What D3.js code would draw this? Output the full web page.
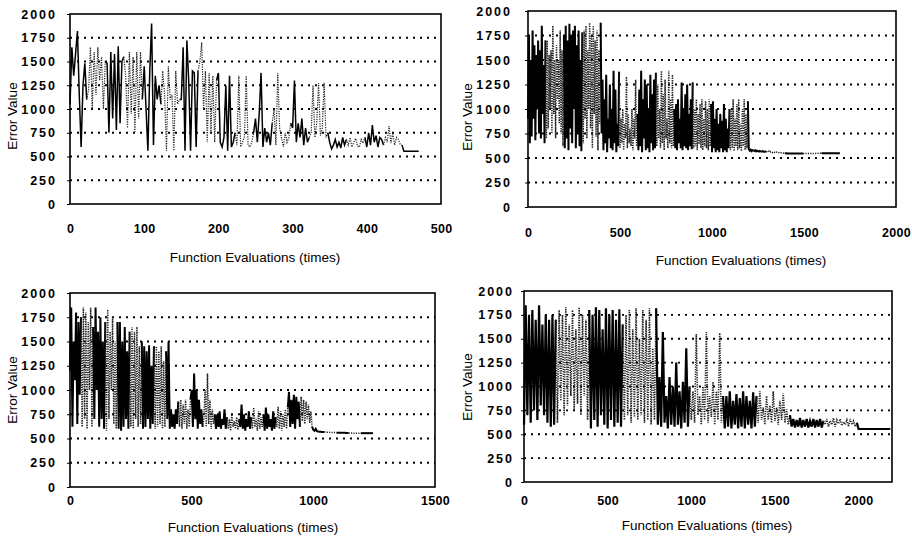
<!DOCTYPE html>
<html>
<head>
<meta charset="utf-8">
<script src="https://cdn.jsdelivr.net/npm/d3@7"></script>
<style>
  body { margin: 0; background: #fff; }
  svg { display: block; font-family: "Liberation Sans", Arial, sans-serif; }
  .tick text { font-size: 12.5px; font-weight: bold; fill: #000; }
  .yaxis .tick text { letter-spacing: 2px; }
  .xaxis .tick text { letter-spacing: 0.3px; }
  .tick line { stroke: #000; }
  .title { font-size: 13.5px; fill: #000; }
</style>
</head>
<body>
<svg id="chart" width="912" height="537"></svg>
<script>
// shared y axis
const yTicks = [0, 250, 500, 750, 1000, 1250, 1500, 1750, 2000];
const yGrid = [250, 500, 750, 1000, 1250, 1500, 1750];

// panel 1 : 0-500 evaluations, one value every 2.5 evaluations, runs of 25
const p1XTicks = [0, 100, 200, 300, 400, 500];
const p1Step = 2.5;
const p1Runs = [
  [1050, 1650, 1350, 1580, 1820, 1150, 600, 1250, 1480, 1100],
  [1200, 1650, 1000, 1600, 1150, 1650, 1300, 1550, 1000, 1500],
  [1480, 750, 1600, 900, 1580, 780, 1660, 850, 1500, 1550],
  [1350, 800, 1600, 950, 1550, 760, 1600, 900, 1600, 1100],
  [1450, 1000, 560, 1400, 1900, 620, 1350, 1100, 1250, 1050],
  [1400, 1150, 560, 1450, 1100, 1150, 560, 1400, 1050, 1100],
  [1100, 1650, 560, 1720, 1300, 560, 1400, 1380, 600, 1400],
  [1500, 1700, 1000, 1400, 650, 1380, 750, 1350, 650, 1300],
  [1380, 650, 600, 700, 1250, 560, 1350, 600, 650, 750],
  [620, 1350, 600, 650, 700, 1350, 620, 600, 650, 750],
  [900, 650, 950, 1380, 600, 800, 650, 750, 620, 850],
  [1000, 620, 1380, 800, 700, 600, 750, 650, 700, 850],
  [800, 1300, 650, 850, 700, 900, 620, 800, 650, 700],
  [750, 1250, 700, 850, 1270, 720, 800, 1280, 700, 750],
  [650, 580, 620, 680, 600, 650, 590, 700, 620, 680],
  [620, 700, 600, 650, 690, 610, 600, 680, 640, 700],
  [600, 750, 620, 830, 650, 720, 600, 700, 680, 620],
  [700, 650, 820, 640, 750, 620, 700, 680, 630, 620],
  [555, 555, 555, 555, 555, 555, 555, 555, 555]
];

// panel 2 : 0-2000 evaluations, one value every 5 evaluations, runs of 100
const p2XTicks = [0, 500, 1000, 1500, 2000];
const p2Step = 5;
const p2Runs = [
  [900, 1750, 650, 1500, 720, 1800, 900, 1650, 680, 1550, 1000, 1700, 750, 1600, 700, 1850, 950, 1450, 650, 1700],
  [700, 1700, 800, 1550, 1000, 1600, 750, 1850, 950, 1500, 700, 1650, 1100, 1500, 850, 1800, 750, 1600, 620, 1750],
  [600, 1850, 700, 1700, 580, 1870, 800, 1750, 650, 1800, 1000, 1850, 600, 1650, 750, 1800, 620, 1500, 570, 1780],
  [650, 1800, 900, 1850, 700, 1600, 1000, 1880, 800, 1750, 600, 1850, 950, 1700, 720, 1800, 580, 1600, 850, 1880],
  [750, 1300, 580, 1100, 650, 1350, 560, 900, 700, 1250, 600, 1000, 580, 1390, 650, 1200, 560, 850, 620, 1380],
  [600, 900, 650, 1000, 580, 850, 700, 1330, 600, 950, 650, 800, 620, 1000, 580, 900, 700, 1300, 620, 950],
  [580, 1200, 620, 1390, 560, 1100, 700, 1300, 580, 1250, 600, 1000, 560, 1350, 650, 1150, 580, 1300, 600, 1370],
  [620, 1250, 700, 1000, 600, 1390, 650, 1150, 580, 1300, 700, 900, 600, 1390, 650, 1100, 600, 1350, 620, 1000],
  [600, 1050, 580, 1100, 650, 900, 600, 1270, 580, 1000, 620, 1150, 600, 1250, 580, 950, 620, 1100, 590, 1270],
  [600, 1000, 620, 1100, 580, 950, 640, 1050, 600, 1100, 580, 900, 620, 1080, 600, 1000, 580, 1100, 620, 1050],
  [560, 1080, 600, 900, 560, 1000, 580, 850, 560, 950, 600, 880, 560, 1050, 580, 900, 560, 800, 600, 1000],
  [580, 1000, 600, 1100, 570, 900, 620, 1050, 580, 1100, 600, 850, 570, 1000, 620, 1100, 580, 950, 600, 1080],
  [590, 575, 585, 570, 580, 575, 572, 580, 568, 575, 570, 565, 572, 568, 565, 570, 566, 563, 567, 565],
  [565, 560, 570, 558, 565, 560, 555, 562, 558, 553, 560, 556, 552, 555, 550, 553, 550, 548, 550, 548],
  [548, 547, 548, 547, 547, 546, 547, 546, 546, 546, 545, 546, 545, 545, 545, 545, 545, 545, 545, 545],
  [545, 545, 546, 545, 545, 546, 545, 546, 546, 546, 547, 546, 547, 547, 547, 548, 547, 548, 548, 548],
  [549, 549, 549, 549, 549, 549, 549, 549, 549, 549, 549, 549, 549, 549, 549, 549, 549, 549, 549, 549]
];

// panel 3 : 0-1500 evaluations, one value every 5 evaluations, runs of 50
const p3XTicks = [0, 500, 1000, 1500];
const p3Step = 5;
const p3Runs = [
  [1200, 1850, 620, 1500, 1100, 1800, 650, 1700, 950, 1750],
  [620, 1850, 700, 1800, 600, 1700, 1000, 1850, 620, 1650],
  [700, 1850, 1000, 1600, 620, 1750, 700, 1500, 600, 1700],
  [580, 1830, 700, 1600, 1000, 1750, 650, 1500, 600, 1700],
  [600, 1700, 580, 1500, 620, 1650, 700, 1400, 600, 1600],
  [620, 1650, 600, 1600, 700, 1650, 620, 1450, 650, 1500],
  [600, 1450, 620, 1400, 700, 1460, 600, 1250, 650, 1450],
  [600, 1450, 620, 1400, 650, 1450, 600, 1300, 620, 1400],
  [700, 1500, 600, 800, 620, 750, 600, 800, 650, 880],
  [620, 900, 600, 850, 650, 900, 600, 800, 620, 900],
  [1000, 620, 1170, 700, 1000, 600, 900, 650, 800, 620],
  [700, 1000, 620, 1170, 650, 900, 600, 800, 650, 750],
  [600, 750, 620, 780, 600, 700, 640, 800, 600, 720],
  [600, 700, 580, 750, 620, 680, 600, 720, 590, 700],
  [620, 850, 600, 750, 580, 700, 620, 780, 600, 720],
  [600, 820, 620, 700, 580, 780, 600, 720, 620, 750],
  [580, 820, 600, 750, 620, 700, 580, 780, 600, 720],
  [620, 830, 600, 780, 580, 750, 620, 800, 600, 820],
  [980, 620, 900, 650, 950, 600, 930, 700, 880, 620],
  [930, 680, 900, 650, 880, 700, 850, 660, 780, 620],
  [590, 580, 600, 575, 572, 570, 570, 568, 568, 567],
  [566, 565, 565, 564, 563, 563, 562, 562, 561, 560],
  [560, 560, 559, 559, 558, 558, 558, 557, 557, 557],
  [556, 556, 556, 555, 555, 555, 555, 555, 555, 555],
  [555, 555, 555, 555, 555, 555, 555, 555, 555, 555]
];

// panel 4 : 0-2200 evaluations, one value every 10 evaluations, runs of 200
const p4XTicks = [0, 500, 1000, 1500, 2000];
const p4Step = 10;
const p4Runs = [
  [600, 1850, 700, 1750, 620, 1800, 750, 1700, 650, 1850, 800, 1650, 700, 1750, 620, 1700, 580, 1750, 600, 1700],
  [620, 1800, 850, 1750, 700, 1830, 800, 1650, 900, 1800, 750, 1600, 820, 1830, 700, 1750, 900, 1700, 650, 1800],
  [560, 1750, 650, 1830, 580, 1800, 700, 1600, 600, 1820, 560, 1750, 650, 1800, 580, 1700, 620, 1810, 580, 1650],
  [650, 1750, 700, 1800, 620, 1600, 680, 1820, 650, 1500, 700, 1800, 620, 1700, 650, 1820, 600, 1400, 650, 1820],
  [600, 1100, 580, 1570, 620, 900, 560, 1100, 600, 1000, 580, 1250, 600, 950, 560, 1050, 620, 1400, 580, 1000],
  [650, 950, 620, 1550, 700, 900, 600, 1000, 650, 1570, 620, 900, 680, 1050, 600, 950, 650, 1560, 620, 900],
  [560, 900, 580, 950, 560, 850, 600, 920, 560, 880, 580, 950, 560, 900, 600, 850, 560, 940, 580, 900],
  [620, 950, 650, 780, 600, 900, 650, 800, 620, 950, 640, 780, 600, 850, 650, 930, 620, 760, 600, 700],
  [580, 660, 570, 650, 580, 670, 570, 650, 580, 660, 570, 640, 580, 660, 570, 650, 580, 660, 570, 640],
  [600, 660, 580, 640, 600, 670, 580, 650, 610, 660, 590, 630, 600, 650, 580, 660, 600, 640, 580, 620],
  [555, 555, 555, 555, 555, 555, 555, 555, 555, 555, 555, 555, 555, 555, 555, 555, 555, 555, 555, 555]
];

const yTitle = 'Error Value';
const xTitle = 'Function Evaluations (times)';

// layout of the four plot areas (pixels) and stroke weights
const panels = [
  { runs: p1Runs, step: p1Step, xMax: 500, xTicks: p1XTicks, solidW: 1.5, dotW: 1.2, yPad: 10,
    l: 70, r: 441, t: 14, b: 204, tickY: 228, xTitleX: 255, xTitleY: 262, yTitleX: 17, yTitleY: 116 },
  { runs: p2Runs, step: p2Step, xMax: 2000, xTicks: p2XTicks, solidW: 2, dotW: 1.5, yPad: 13,
    l: 528, r: 896, t: 11, b: 207, tickY: 232, xTitleX: 741, xTitleY: 265, yTitleX: 472, yTitleY: 117 },
  { runs: p3Runs, step: p3Step, xMax: 1500, xTicks: p3XTicks, solidW: 2, dotW: 1.5, yPad: 10,
    l: 70, r: 435, t: 293, b: 487, tickY: 500, xTitleX: 253, xTitleY: 532, yTitleX: 17, yTitleY: 390 },
  { runs: p4Runs, step: p4Step, xMax: 2200, xTicks: p4XTicks, solidW: 2.2, dotW: 1.6, yPad: 7,
    l: 524, r: 892, t: 291, b: 482, tickY: 500, xTitleX: 707, xTitleY: 530, yTitleX: 472, yTitleY: 387 }
];

const svg = d3.select('#chart');

function drawPanel(p) {
  const x = d3.scaleLinear().domain([0, p.xMax]).range([p.l, p.r]);
  const y = d3.scaleLinear().domain([0, 2000]).range([p.b, p.t]);
  const g = svg.append('g');

  // dotted grid
  g.selectAll('.grid')
    .data(yGrid)
    .join('line')
      .attr('class', 'grid')
      .attr('x1', p.l).attr('x2', p.r)
      .attr('y1', d => y(d)).attr('y2', d => y(d))
      .attr('stroke', '#000')
      .attr('stroke-width', 1.8)
      .attr('stroke-dasharray', '2,5');

  // runs alternate between solid black and dotted
  const line = d3.line().x(d => x(d[0])).y(d => y(d[1]));
  let idx = 0;
  let prev = null;
  p.runs.forEach((run, k) => {
    const pts = run.map((v, j) => [(idx + j) * p.step, v]);
    if (prev) pts.unshift(prev);
    idx += run.length;
    prev = pts[pts.length - 1];
    const solid = k % 2 === 0;
    g.append('path')
      .datum(pts)
      .attr('d', line)
      .attr('fill', 'none')
      .attr('stroke', solid ? '#000' : '#222')
      .attr('stroke-width', solid ? p.solidW : p.dotW)
      .attr('stroke-dasharray', solid ? null : '1.2,1.2');
  });

  // frame
  g.append('rect')
    .attr('x', p.l).attr('y', p.t)
    .attr('width', p.r - p.l).attr('height', p.b - p.t)
    .attr('fill', 'none')
    .attr('stroke', '#000')
    .attr('stroke-width', 1.6);

  // axes
  g.append('g')
    .attr('class', 'yaxis')
    .attr('transform', `translate(${p.l},0)`)
    .call(d3.axisLeft(y).tickValues(yTicks).tickSize(3).tickPadding(p.yPad).tickFormat(d3.format('d')))
    .call(a => a.select('.domain').remove());

  g.append('g')
    .attr('class', 'xaxis')
    .attr('transform', `translate(0,${p.b})`)
    .call(d3.axisBottom(x).tickValues(p.xTicks).tickSize(0).tickPadding(p.tickY - p.b - 4).tickFormat(d3.format('d')))
    .call(a => a.select('.domain').remove());

  g.append('text')
    .attr('class', 'title')
    .attr('x', p.xTitleX).attr('y', p.xTitleY)
    .attr('text-anchor', 'middle')
    .text(xTitle);

  g.append('text')
    .attr('class', 'title')
    .attr('transform', `translate(${p.yTitleX},${p.yTitleY}) rotate(-90)`)
    .attr('text-anchor', 'middle')
    .text(yTitle);
}

panels.forEach(drawPanel);
</script>
</body>
</html>
